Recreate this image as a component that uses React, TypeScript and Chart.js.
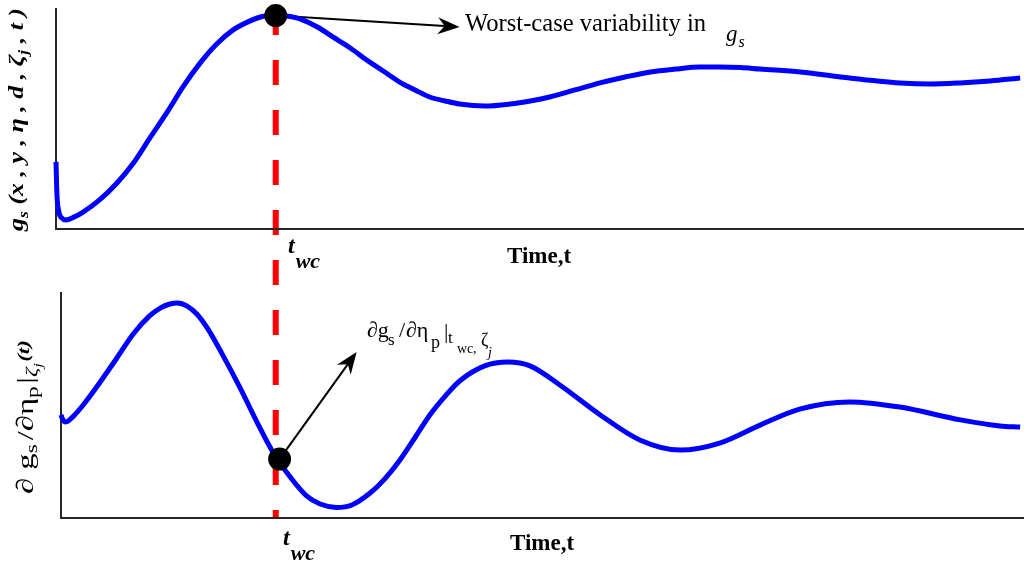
import React, { useEffect, useRef } from 'react';
import { Chart, registerables } from 'chart.js';

Chart.register(...registerables);

// ---------- data ----------
// time axis runs from 0 to 10 in both panels
const timeMin = 0;
const timeMax = 10;

// top panel: g_s(x, y, eta, d, zeta_j, t)
const topTime = [0, 0.01, 0.03, 0.06, 0.1, 0.19, 0.28, 0.45, 0.63, 0.8, 0.97, 1.15, 1.31, 1.49, 1.66, 1.83, 2.0, 2.13, 2.27, 2.42, 2.52, 2.7, 2.86, 3.04, 3.21, 3.38, 3.55, 3.71, 3.86, 4.02, 4.17, 4.43, 4.69, 4.9, 5.1, 5.36, 5.62, 5.88, 6.14, 6.4, 6.65, 6.86, 7.07, 7.27, 7.69, 8.2, 8.72, 9.03, 9.34, 9.65, 9.96];
const topValues = [0.305, 0.155, 0.077, 0.05, 0.041, 0.055, 0.077, 0.132, 0.209, 0.3, 0.414, 0.532, 0.645, 0.755, 0.841, 0.905, 0.945, 0.966, 0.973, 0.966, 0.955, 0.918, 0.873, 0.823, 0.768, 0.718, 0.668, 0.632, 0.6, 0.582, 0.568, 0.559, 0.568, 0.582, 0.6, 0.632, 0.664, 0.691, 0.714, 0.727, 0.736, 0.736, 0.734, 0.727, 0.714, 0.686, 0.664, 0.659, 0.664, 0.673, 0.686];

// bottom panel: sensitivity dg_s/d eta_p
const bottomTime = [0, 0.02, 0.05, 0.13, 0.23, 0.4, 0.58, 0.75, 0.92, 1.03, 1.13, 1.21, 1.31, 1.41, 1.52, 1.68, 1.86, 2.04, 2.2, 2.38, 2.55, 2.69, 2.86, 3.02, 3.21, 3.36, 3.52, 3.68, 3.83, 3.99, 4.14, 4.4, 4.64, 4.87, 5.18, 5.6, 6.01, 6.43, 6.84, 7.26, 7.67, 8.19, 8.71, 9.34, 9.75, 9.96];
const bottomValues = [0.458, 0.436, 0.427, 0.453, 0.502, 0.6, 0.711, 0.818, 0.898, 0.933, 0.951, 0.956, 0.942, 0.907, 0.844, 0.724, 0.578, 0.422, 0.293, 0.182, 0.098, 0.062, 0.047, 0.058, 0.111, 0.173, 0.258, 0.36, 0.458, 0.542, 0.609, 0.676, 0.693, 0.676, 0.591, 0.458, 0.347, 0.302, 0.333, 0.413, 0.484, 0.516, 0.493, 0.436, 0.409, 0.404];

// worst-case time and the marked points
const tWc = 2.27;
const topMarker = [0.97];
const bottomMarker = [0.262];
// arrow tips [time, value]
const topArrowTip = [4.17, 0.918];
const bottomArrowTip = [3.07, 0.738];

// ---------- styles ----------
const SERIF = "'Liberation Serif', 'Times New Roman', serif";
const BLUE = '#0000ff';
const AXIS = '#262626';

type Run = { s: string; font: string; dy?: number; dx?: number };

function drawRuns(ctx: CanvasRenderingContext2D, x: number, y: number, runs: Run[], stretch = 1) {
  let cx = x;
  for (const r of runs) {
    ctx.font = r.font;
    cx += (r.dx ?? 0) * stretch;
    ctx.save();
    ctx.translate(cx, y + (r.dy ?? 0));
    ctx.scale(stretch, 1);
    ctx.fillText(r.s, 0, 0);
    ctx.restore();
    cx += ctx.measureText(r.s).width * stretch;
  }
}

function runsWidth(ctx: CanvasRenderingContext2D, runs: Run[]) {
  let w = 0;
  for (const r of runs) {
    ctx.font = r.font;
    w += (r.dx ?? 0) + ctx.measureText(r.s).width;
  }
  return w;
}

type Placed = { s: string; font: string; x: number; y: number };
function drawPlaced(ctx: CanvasRenderingContext2D, items: Placed[]) {
  for (const p of items) {
    ctx.font = p.font;
    ctx.fillText(p.s, p.x, p.y);
  }
}

function drawArrow(ctx: CanvasRenderingContext2D, x1: number, y1: number, x2: number, y2: number) {
  const headLen = 22;
  const half = 8.5;
  const notch = 7;
  const dx = x2 - x1;
  const dy = y2 - y1;
  const len = Math.hypot(dx, dy);
  const ux = dx / len;
  const uy = dy / len;
  const px = -uy;
  const py = ux;
  const bx = x2 - ux * headLen;
  const by = y2 - uy * headLen;
  const nx = x2 - ux * (headLen - notch);
  const ny = y2 - uy * (headLen - notch);
  ctx.save();
  ctx.strokeStyle = '#000';
  ctx.fillStyle = '#000';
  ctx.lineWidth = 2;
  ctx.beginPath();
  ctx.moveTo(x1, y1);
  ctx.lineTo(nx, ny);
  ctx.stroke();
  ctx.beginPath();
  ctx.moveTo(x2, y2);
  ctx.lineTo(bx + px * half, by + py * half);
  ctx.lineTo(nx, ny);
  ctx.lineTo(bx - px * half, by - py * half);
  ctx.closePath();
  ctx.fill();
  ctx.restore();
}

function axisScales() {
  return {
    x: {
      type: 'linear' as const,
      min: timeMin,
      max: timeMax,
      grid: { display: false, drawTicks: false },
      border: { display: true, color: AXIS, width: 2 },
      ticks: { display: false },
    },
    y: {
      type: 'linear' as const,
      min: 0,
      max: 1,
      grid: { display: false, drawTicks: false },
      border: { display: true, color: AXIS, width: 2 },
      ticks: { display: false },
    },
  };
}

export default function App() {
  const topRef = useRef<HTMLCanvasElement | null>(null);
  const bottomRef = useRef<HTMLCanvasElement | null>(null);

  useEffect(() => {
    if (!topRef.current || !bottomRef.current) return;

    const bottomChart = new Chart(bottomRef.current, {
      type: 'line',
      data: {
        datasets: [
          {
            label: 'marker',
            type: 'scatter',
            data: [{ x: tWc, y: bottomMarker[0] }],
            pointRadius: 11.5,
            pointBackgroundColor: '#000',
            pointBorderWidth: 0,
            clip: false,
            order: 0,
          } as any,
          {
            label: 'sensitivity',
            data: bottomTime.map((t, i) => ({ x: t, y: bottomValues[i] })),
            borderColor: BLUE,
            borderWidth: 5,
            pointRadius: 0,
            cubicInterpolationMode: 'monotone',
            clip: false,
            order: 1,
          },
        ],
      },
      options: {
        animation: false,
        responsive: false,
        events: [],
        layout: { autoPadding: false, padding: { left: 61, top: 293, right: 0, bottom: 48 } },
        scales: axisScales(),
        plugins: { legend: { display: false }, tooltip: { enabled: false } },
      },
      plugins: [
        {
          id: 'bottomDecor',
          beforeDatasetsDraw(chart: any) {
            const { ctx, scales } = chart;
            drawArrow(
              ctx,
              scales.x.getPixelForValue(tWc),
              scales.y.getPixelForValue(bottomMarker[0]),
              scales.x.getPixelForValue(bottomArrowTip[0]),
              scales.y.getPixelForValue(bottomArrowTip[1])
            );
          },
          afterDraw(chart: any) {
            const ctx: CanvasRenderingContext2D = chart.ctx;
            ctx.save();
            ctx.fillStyle = '#000';
            ctx.textBaseline = 'alphabetic';
            ctx.textAlign = 'left';
            // annotation near the arrow
            drawPlaced(ctx, [
              { s: '∂g', font: `22px ${SERIF}`, x: 367, y: 337 },
              { s: 's', font: `17px ${SERIF}`, x: 388, y: 345 },
              { s: '/', font: `22px ${SERIF}`, x: 399, y: 337 },
              { s: '∂η', font: `22px ${SERIF}`, x: 406, y: 337 },
              { s: 'p', font: `18px ${SERIF}`, x: 431, y: 348 },
              { s: '|', font: `22px ${SERIF}`, x: 444, y: 338 },
              { s: 't', font: `17px ${SERIF}`, x: 448, y: 343 },
              { s: 'wc', font: `14px ${SERIF}`, x: 457, y: 353 },
              { s: ',', font: `14px ${SERIF}`, x: 473, y: 353 },
              { s: 'ζ', font: `18px ${SERIF}`, x: 481, y: 346 },
              { s: 'j', font: `italic 14px ${SERIF}`, x: 488, y: 357 },
            ]);
            // x labels
            drawRuns(ctx, 283, 545, [
              { s: 't', font: `bold italic 24px ${SERIF}` },
              { s: 'wc', font: `bold italic 22px ${SERIF}`, dy: 15, dx: 1 },
            ]);
            ctx.font = `bold 23px ${SERIF}`;
            ctx.fillText('Time,t', 510, 550);
            // y label (rotated)
            const yRuns: Run[] = [
              { s: '∂ g', font: `24px ${SERIF}` },
              { s: 's', font: `17px ${SERIF}`, dy: 4 },
              { s: '/∂η', font: `24px ${SERIF}`, dx: 3 },
              { s: 'p', font: `17px ${SERIF}`, dy: 5 },
              { s: '|', font: `24px ${SERIF}`, dx: 2 },
              { s: 'ζ', font: `italic 17px ${SERIF}`, dy: 4 },
              { s: 'j', font: `italic 12px ${SERIF}`, dy: 9 },
              { s: '(t)', font: `bold italic 17px ${SERIF}`, dy: -4, dx: 1 },
            ];
            const stretch = 154 / runsWidth(ctx, yRuns);
            ctx.translate(33, 494);
            ctx.rotate(-Math.PI / 2);
            drawRuns(ctx, 0, 0, yRuns, stretch);
            ctx.restore();
          },
        },
      ],
    });

    const topChart = new Chart(topRef.current, {
      type: 'line',
      data: {
        datasets: [
          {
            label: 'marker',
            type: 'scatter',
            data: [{ x: tWc, y: topMarker[0] }],
            pointRadius: 11.5,
            pointBackgroundColor: '#000',
            pointBorderWidth: 0,
            clip: false,
            order: 0,
          } as any,
          {
            label: 'gs',
            data: topTime.map((t, i) => ({ x: t, y: topValues[i] })),
            borderColor: BLUE,
            borderWidth: 5,
            pointRadius: 0,
            cubicInterpolationMode: 'monotone',
            clip: false,
            order: 1,
          },
        ],
      },
      options: {
        animation: false,
        responsive: false,
        events: [],
        layout: { autoPadding: false, padding: { left: 56, top: 9, right: 0, bottom: 337 } },
        scales: axisScales(),
        plugins: { legend: { display: false }, tooltip: { enabled: false } },
      },
      plugins: [
        {
          id: 'topDecor',
          beforeDraw(chart: any) {
            const { ctx, scales, chartArea } = chart;
            const x = scales.x.getPixelForValue(tWc);
            const yEnd = bottomChart.scales.y.getPixelForValue(0);
            ctx.save();
            ctx.strokeStyle = '#ff0000';
            ctx.lineWidth = 6;
            ctx.setLineDash([25, 25]);
            ctx.lineDashOffset = 49;
            ctx.beginPath();
            ctx.moveTo(x, chartArea.top);
            ctx.lineTo(x, yEnd);
            ctx.stroke();
            ctx.restore();
          },
          beforeDatasetsDraw(chart: any) {
            const { ctx, scales } = chart;
            drawArrow(
              ctx,
              scales.x.getPixelForValue(tWc),
              scales.y.getPixelForValue(topMarker[0]),
              scales.x.getPixelForValue(topArrowTip[0]),
              scales.y.getPixelForValue(topArrowTip[1])
            );
          },
          afterDraw(chart: any) {
            const ctx: CanvasRenderingContext2D = chart.ctx;
            ctx.save();
            ctx.fillStyle = '#000';
            ctx.textBaseline = 'alphabetic';
            ctx.textAlign = 'left';
            ctx.font = `24.6px ${SERIF}`;
            ctx.fillText('Worst-case variability in', 465, 31);
            drawRuns(ctx, 726, 41, [
              { s: 'g', font: `italic 23px ${SERIF}` },
              { s: 's', font: `italic 16px ${SERIF}`, dy: 6, dx: 1 },
            ]);
            drawRuns(ctx, 288, 253, [
              { s: 't', font: `bold italic 24px ${SERIF}` },
              { s: 'wc', font: `bold italic 22px ${SERIF}`, dy: 15, dx: 1 },
            ]);
            ctx.font = `bold 23px ${SERIF}`;
            ctx.fillText('Time,t', 507, 263);
            // y label (rotated)
            const B = `bold italic 22px ${SERIF}`;
            const S = `bold italic 15px ${SERIF}`;
            const yRuns: Run[] = [
              { s: 'g', font: B },
              { s: 's', font: S, dy: 5 },
              { s: ' (x , y , η , d , ζ', font: B },
              { s: 'j', font: S, dy: 5 },
              { s: ' , t )', font: B },
            ];
            const stretch = 223 / runsWidth(ctx, yRuns);
            ctx.translate(23, 231);
            ctx.rotate(-Math.PI / 2);
            drawRuns(ctx, 0, 0, yRuns, stretch);
            ctx.restore();
          },
        },
      ],
    });

    return () => {
      topChart.destroy();
      bottomChart.destroy();
    };
  }, []);

  const canvasStyle: React.CSSProperties = { position: 'absolute', left: 0, top: 0, width: 1024, height: 566 };
  return (
    <div style={{ position: 'absolute', left: 0, top: 0, width: 1024, height: 566, background: '#fff' }}>
      <canvas ref={topRef} width={1024} height={566} style={canvasStyle} />
      <canvas ref={bottomRef} width={1024} height={566} style={canvasStyle} />
    </div>
  );
}
